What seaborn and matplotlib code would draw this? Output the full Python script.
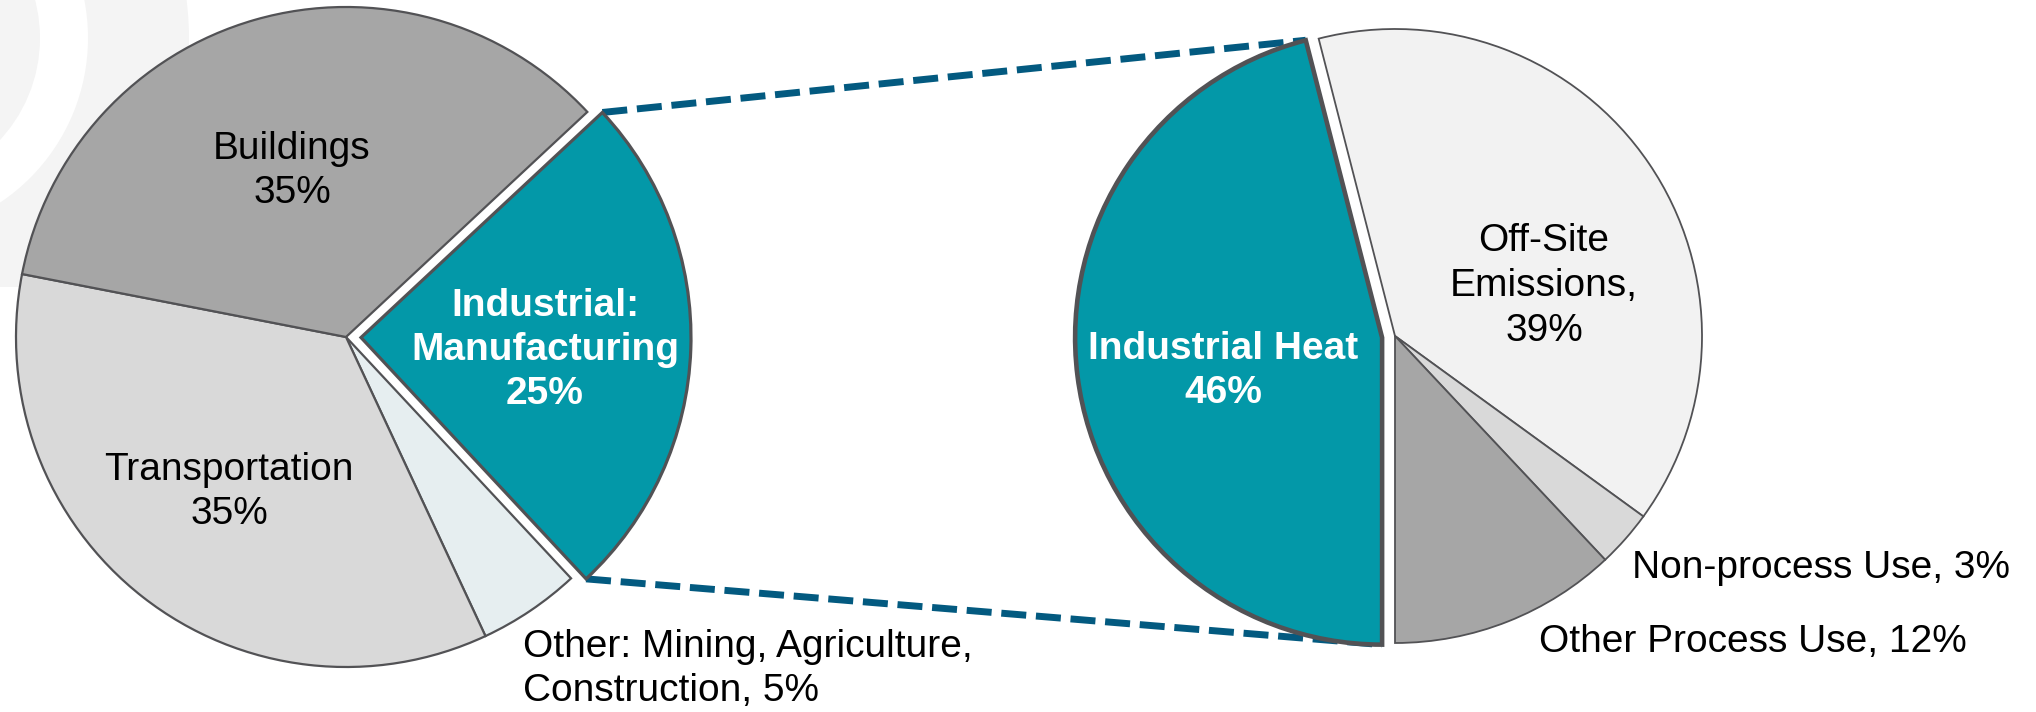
import matplotlib
matplotlib.use("Agg")
import numpy as np
import matplotlib.pyplot as plt
import seaborn as sns
from matplotlib.patches import Circle, Wedge, Rectangle

# ---- data -------------------------------------------------------------
sector_labels = ["Industrial:\nManufacturing\n{}%",
                 "Other: Mining, Agriculture,\nConstruction, {}%",
                 "Transportation\n{}%",
                 "Buildings\n{}%"]
sector_shares = [25, 5, 35, 35]

industrial_labels = ["Industrial Heat\n{}%",
                     "Off-Site\nEmissions,\n{}%",
                     "Non-process Use, {}%",
                     "Other Process Use, {}%"]
industrial_shares = [46, 39, 3, 12]

# ---- style ------------------------------------------------------------
sns.set_theme(style="white")
plt.rcParams["font.family"] = ["Liberation Sans", "DejaVu Sans"]

TEAL = "#0398A8"
EDGE = "#525255"
LINK = "#035A80"
sector_colors = [TEAL, "#E6EEF0", "#D9D9D9", "#A6A6A6"]
industrial_colors = [TEAL, "#F2F2F2", "#D9D9D9", "#A6A6A6"]

W, H = 2036, 712
fig = plt.figure(figsize=(W / 100, H / 100), dpi=100)
ax = fig.add_axes([0, 0, 1, 1])

# faint background emblem in the upper-left corner
emblem_clip = Rectangle((-300, 425), 700, 400, transform=ax.transData)
for patch in (Circle((-110, 674), 150),
              Wedge((-110, 674), 299, 0, 360, width=101)):
    patch.set_facecolor("#F4F4F4")
    patch.set_edgecolor("none")
    patch.set_zorder(0)
    ax.add_patch(patch)
    patch.set_clip_path(emblem_clip)

# ---- left pie: all sectors --------------------------------------------
left_center, left_r = (346, 375), 330
left_wedges, _ = ax.pie(sector_shares, colors=sector_colors, startangle=43,
                        counterclock=False, center=left_center, radius=left_r,
                        explode=[15, 0, 0, 0], frame=True,
                        wedgeprops=dict(edgecolor=EDGE, linewidth=1.6, zorder=2))
left_wedges[0].set_linewidth(2.3)

# ---- right pie: manufacturing breakdown -------------------------------
right_center, right_r = (1395, 376), 307
right_wedges, _ = ax.pie(industrial_shares, colors=industrial_colors, startangle=-90,
                         counterclock=False, center=right_center, radius=right_r,
                         explode=[13, 0, 0, 0], frame=True,
                         wedgeprops=dict(edgecolor=EDGE, linewidth=1.3, zorder=2))
right_wedges[0].set_linewidth(3.3)

ax.set_xlim(0, W)
ax.set_ylim(0, H)
ax.set_aspect("equal")
ax.axis("off")


def corner(w, theta):
    cx, cy = w.center
    t = np.deg2rad(theta)
    return cx + w.r * np.cos(t), cy + w.r * np.sin(t)


# dashed links from the manufacturing slice to the breakdown pie
mfg, heat = left_wedges[0], right_wedges[0]
for a, b in ((corner(mfg, mfg.theta2), corner(heat, heat.theta1)),
             (corner(mfg, mfg.theta1), corner(heat, heat.theta2))):
    ax.plot([a[0], b[0]], [a[1], b[1]], color=LINK, lw=5,
            ls=(0, (3.6, 1.4)), solid_capstyle="butt", zorder=1)

# ---- labels -----------------------------------------------------------
fs = 28
ax.text(545, 362, sector_labels[0].format(sector_shares[0]), color="white",
        fontsize=fs, fontweight="bold", ha="center", va="center",
        multialignment="center", linespacing=1.28, zorder=3)
ax.text(523, 43, sector_labels[1].format(sector_shares[1]), color="black",
        fontsize=fs, ha="left", va="center", linespacing=1.3, zorder=3)
ax.text(229, 220, sector_labels[2].format(sector_shares[2]), color="black",
        fontsize=fs, ha="center", va="center", multialignment="center",
        linespacing=1.32, zorder=3)
ax.text(292, 541, sector_labels[3].format(sector_shares[3]), color="black",
        fontsize=fs, ha="center", va="center", multialignment="center",
        linespacing=1.32, zorder=3)

ax.text(1223, 341, industrial_labels[0].format(industrial_shares[0]), color="white",
        fontsize=fs, fontweight="bold", ha="center", va="center",
        multialignment="center", linespacing=1.32, zorder=3)
ax.text(1544, 426, industrial_labels[1].format(industrial_shares[1]), color="black",
        fontsize=fs, ha="center", va="center", multialignment="center",
        linespacing=1.32, zorder=3)
ax.text(1632, 144, industrial_labels[2].format(industrial_shares[2]), color="black",
        fontsize=fs, ha="left", va="center", zorder=3)
ax.text(1539, 70, industrial_labels[3].format(industrial_shares[3]), color="black",
        fontsize=fs, ha="left", va="center", zorder=3)

fig.savefig("out.png", dpi=100, facecolor="white")
